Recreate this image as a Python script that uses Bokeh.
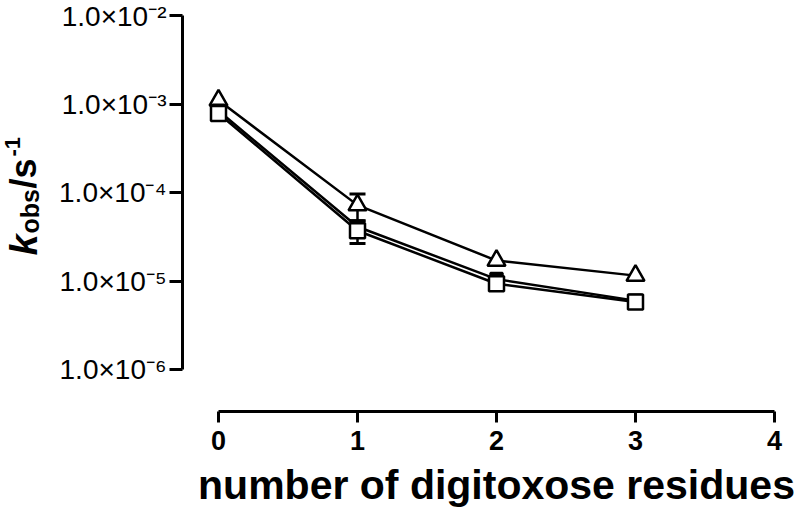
import math
from bokeh.plotting import figure
from bokeh.models import Label, FixedTicker, Range1d
from bokeh.embed import file_html
from bokeh.resources import INLINE

# ---- data ----
residues = [0, 1, 2, 3]
k_tri = [1.10e-3, 7.2e-5, 1.70e-5, 1.15e-5]
k_tri_err = [0, 2.4e-5, 0, 0]
k_sq = [7.8e-4, 3.7e-5, 9.3e-6, 5.8e-6]
k_sq_err = [0, 1.05e-5, 0, 0]
k_fill = [8.4e-4, 4.1e-5, 1.05e-5, 6.0e-6]

x_ticks = [0, 1, 2, 3, 4]
y_ticks = [1e-6, 1e-5, 1e-4, 1e-3, 1e-2]
y_tick_labels = ["1.0\u00d710\u207b\u2076", "1.0\u00d710\u207b\u2075", "1.0\u00d710\u207b\u2074",
                 "1.0\u00d710\u207b\u00b3", "1.0\u00d710\u207b\u00b2"]
x_title = "number of digitoxose residues"

FONT = "Liberation Sans"

# ---- layout (page pixels) ----
W, H = 800, 515
PX_PER_X = 139.0          # pixels per residue
PX0 = 218.0               # page x of residue 0
PX_PER_DEC = 88.5         # pixels per decade
PY_E2 = 15.0              # page y of 1e-2
AXIS_PX, AXIS_PY = 182, 411

X0, X1 = -PX0 / PX_PER_X, (W - PX0) / PX_PER_X
LY1 = -2 + PY_E2 / PX_PER_DEC
LY0 = LY1 - H / PX_PER_DEC

def px2x(px):
    return X0 + px / PX_PER_X

def py2y(py):
    return 10 ** (LY1 - py / PX_PER_DEC)

p = figure(width=W, height=H, y_axis_type="log",
           x_range=Range1d(X0, X1), y_range=Range1d(10 ** LY0, 10 ** LY1),
           output_backend="svg", toolbar_location=None,
           min_border_left=0, min_border_right=0,
           min_border_top=0, min_border_bottom=0)
p.outline_line_color = None
p.grid.visible = False
p.background_fill_color = "white"
p.border_fill_color = "white"

for ax in (p.xaxis[0], p.yaxis[0]):
    ax.axis_line_width = 3
    ax.axis_line_color = "black"
    ax.major_tick_line_width = 3
    ax.major_tick_line_color = "black"
    ax.major_tick_in = 0
    ax.minor_tick_line_color = None

xa = p.xaxis[0]
xa.fixed_location = py2y(AXIS_PY)
xa.ticker = FixedTicker(ticks=x_ticks, minor_ticks=[])
xa.bounds = (x_ticks[0], x_ticks[-1])
xa.major_tick_out = 11
xa.major_label_standoff = 8
xa.major_label_text_font = FONT
xa.major_label_text_font_style = "bold"
xa.major_label_text_font_size = "27px"
xa.major_label_text_color = "black"

ya = p.yaxis[0]
ya.fixed_location = px2x(AXIS_PX)
ya.ticker = FixedTicker(ticks=y_ticks, minor_ticks=[])
ya.bounds = (y_ticks[0], y_ticks[-1])
ya.major_tick_out = 13
ya.major_label_overrides = {v: t for v, t in zip(y_ticks, y_tick_labels)}
ya.major_label_standoff = 3
ya.major_label_text_font = FONT
ya.major_label_text_font_size = "28px"
ya.major_label_text_color = "black"

# y axis title: k_obs / s^-1 (rotated)
ang = math.pi / 2
title_parts = [
    # text, baseline px, start py, size, style
    ("k", 23, 255, "38px", "bold italic"),
    ("obs", 29, 233, "25px", "bold"),
    ("/s", 23, 188, "36px", "bold"),
    ("-1", 12, 156, "22px", "bold"),
]
for txt, bpx, spy, fs, st in title_parts:
    p.add_layout(Label(x=px2x(bpx), y=py2y(spy), angle=ang, text=txt,
                       text_font=FONT, text_font_style=st, text_font_size=fs,
                       text_align="left", text_baseline="alphabetic",
                       text_color="black"))

# x axis title
p.add_layout(Label(x=px2x(496), y=py2y(484), text=x_title,
                   text_font=FONT, text_font_style="bold", text_font_size="41px",
                   text_align="center", text_baseline="alphabetic", text_color="black"))

LW = 2.5
p.line(residues, k_tri, line_width=LW, color="black")
p.line(residues, k_fill, line_width=LW, color="black")
p.line(residues, k_sq, line_width=LW, color="black")

# error bars
for ys, es in ((k_tri, k_tri_err), (k_sq, k_sq_err)):
    xs = [x for x, e in zip(residues, es) if e > 0]
    lo = [y - e for y, e in zip(ys, es) if e > 0]
    hi = [y + e for y, e in zip(ys, es) if e > 0]
    p.segment(x0=xs, y0=lo, x1=xs, y1=hi, line_width=LW, color="black")
    p.scatter(xs, lo, marker="dash", size=16, line_width=3, color="black")
    p.scatter(xs, hi, marker="dash", size=16, line_width=3, color="black")

p.scatter(residues, k_tri, marker="triangle", size=18, fill_color="white",
          line_color="black", line_width=LW)
p.scatter(residues, k_fill, marker="square", size=12, fill_color="black",
          line_color="black", line_width=LW)
p.scatter(residues, k_sq, marker="square", size=15, fill_color="white",
          line_color="black", line_width=LW)

open("out.html", "w").write(file_html(p, INLINE))
